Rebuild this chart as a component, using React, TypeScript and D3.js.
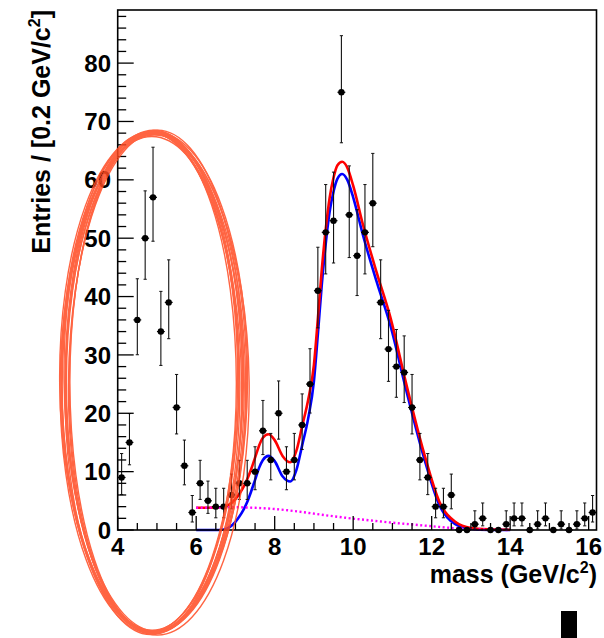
import React from 'react';
import * as d3 from 'd3';

// ---- data ----
const massBins = [
  4.1, 4.3, 4.5, 4.7, 4.9, 5.1, 5.3, 5.5, 5.7, 5.9,
  6.1, 6.3, 6.5, 6.7, 6.9, 7.1, 7.3, 7.5, 7.7, 7.9,
  8.1, 8.3, 8.5, 8.7, 8.9, 9.1, 9.3, 9.5, 9.7, 9.9,
  10.1, 10.3, 10.5, 10.7, 10.9, 11.1, 11.3, 11.5, 11.7, 11.9,
  12.1, 12.3, 12.5, 12.7, 12.9, 13.1, 13.3, 13.5, 13.7, 13.9,
  14.1, 14.3, 14.5, 14.7, 14.9, 15.1, 15.3, 15.5, 15.7, 15.9,
  16.1,
];
const counts = [
  9, 15, 36, 50, 57, 34, 39, 21, 11, 3,
  8, 5, 4, 4, 6, 8, 8, 10, 17, 12,
  20, 10, 12, 18, 25, 41, 51, 53, 75, 54,
  47, 51, 56, 39, 31, 28, 27, 21, 12, 9,
  4, 4, 6, 0, 0, 1, 2, 0, 0, 1,
  2, 2, 0, 1, 2, 0, 1, 0, 1, 2,
  3,
];
const errLow = [
  6.06, 11.17, 30.03, 42.96, 49.48, 28.2, 32.78, 16.46, 7.74, 1.37,
  5.24, 2.85, 2.09, 2.09, 3.63, 5.24, 5.24, 6.9, 12.92, 8.59,
  15.57, 6.9, 8.59, 13.8, 20.04, 34.63, 43.88, 45.75, 66.35, 46.68,
  40.17, 43.88, 48.54, 32.78, 25.47, 22.74, 21.84, 16.46, 8.59, 6.06,
  2.09, 2.09, 3.63, 0, 0, 0.17, 0.71, 0, 0, 0.17,
  0.71, 0.71, 0, 0.17, 0.71, 0, 0.17, 0, 0.17, 0.71,
  1.37,
];
const errHigh = [
  13.1, 19.95, 43.05, 58.11, 65.59, 40.89, 46.29, 26.65, 15.41, 5.91,
  11.94, 8.38, 7.15, 7.15, 9.58, 11.94, 11.94, 14.26, 22.2, 16.55,
  25.54, 14.26, 16.55, 23.32, 31.06, 48.45, 59.19, 61.32, 84.7, 62.39,
  54.9, 59.19, 64.53, 46.29, 37.63, 34.35, 33.26, 26.65, 16.55, 13.1,
  7.15, 7.15, 9.58, 0, 0, 3.29, 4.63, 0, 0, 3.29,
  4.63, 4.63, 0, 3.29, 4.63, 0, 3.29, 0, 3.29, 4.63,
  5.91,
];

const curveMass = [
  6.0, 6.5, 6.7, 6.85, 7.0, 7.1, 7.2, 7.3, 7.4, 7.5, 7.6, 7.7, 7.84, 8.0, 8.2, 8.4, 8.55, 8.7,
  8.85, 9.0, 9.1, 9.2, 9.3, 9.4, 9.5, 9.6, 9.72, 9.85, 10.0, 10.25, 10.6, 10.95, 11.35, 11.8,
  12.2, 12.6, 13.0, 13.5, 14.0,
];
const signalVals = [
  0, 0, 0.1, 0.5, 1.4, 2.3, 3.4, 4.8, 6.6, 8.6, 10.6, 12.0, 12.7, 11.8, 9.2, 8.3, 10.2, 14.5,
  19, 25.5, 33.5, 42, 49, 54.5, 58, 60.2, 61, 60, 57, 50.5, 42.5, 35, 24, 12.5,
  4.2, 1.0, 0.2, 0.02, 0,
];
const totalVals = [
  3.8, 3.85, 4.0, 4.4, 5.3, 6.2, 7.3, 8.7, 10.4, 12.4, 14.4, 15.8, 16.4, 15.4, 12.7, 11.6, 13.5, 17.8,
  22.2, 28.3, 36.2, 44.6, 51.5, 56.9, 60.4, 62.5, 63.1, 62.1, 59, 52.3, 44.1, 36.4, 25.1, 13.3,
  4.8, 1.4, 0.35, 0.12, 0.05,
];
const bgMass = [6.0, 6.5, 7.0, 7.5, 8.0, 8.5, 9.0, 9.5, 10.0, 10.5, 11.0, 11.5, 12.0, 12.5, 13.0, 13.5, 14.0];
const bgVals = [3.8, 3.85, 3.9, 3.8, 3.6, 3.25, 2.8, 2.35, 1.95, 1.6, 1.25, 0.95, 0.65, 0.35, 0.15, 0.05, 0.0];

const xMajorTicks = [4, 6, 8, 10, 12, 14, 16];
const yMajorTicks = [0, 10, 20, 30, 40, 50, 60, 70, 80];

// annotation ellipse (in data units): centre mass, centre value, half-width (mass), half-height (entries)
const annotCentre = [4.91, 25.3];
const annotHalf = [2.35, 42.8];

const FONT = '"Liberation Sans", Arial, Helvetica, sans-serif';

export default function App() {
  const W = 604, H = 638;
  const left = 117.7, right = 596.5, top = 10, bottom = 530;
  const x = d3.scaleLinear().domain([4, 16.2]).range([left, right]);
  const y = d3.scaleLinear().domain([0, 89.1]).range([bottom, top]);

  const xMinor = d3.range(4, 16.21, 0.5).filter((v) => !xMajorTicks.includes(v));
  const yMinor = d3.range(0, 89, 2).filter((v) => !yMajorTicks.includes(v));

  const line = d3
    .line<[number, number]>()
    .x((d) => x(d[0]))
    .y((d) => y(d[1]))
    .curve(d3.curveMonotoneX);

  const sigPath = line(curveMass.map((m, i) => [m, signalVals[i]]));
  const totPath = line(curveMass.map((m, i) => [m, totalVals[i]]));
  const bgPath = line(bgMass.map((m, i) => [m, bgVals[i]]));

  const cx = x(annotCentre[0]);
  const cy = y(annotCentre[1]);
  const rx = x(annotCentre[0] + annotHalf[0]) - cx;
  const ry = cy - y(annotCentre[1] + annotHalf[1]);
  // hand-drawn strands: [dcx, dcy, drx, dry, rotation]
  const strands = [
    [0, 0, 0, 0, -0.4],
    [-1, 0.8, -2, -1, 0.3],
    [0.8, -0.8, -4, 1.5, -0.2],
    [0.4, 0.4, 1.5, 0.8, 0.5],
    [-0.8, -0.4, -6, -1.5, 0.1],
    [1, 1, 2.5, 2, -0.7],
    [0, -1.2, -8, 0, 0.4],
    [-0.4, 1.5, -1, -2.5, -0.3],
    [0.8, 0, -3, 2.5, 0.8],
    [-0.8, 0.8, -5, 0.4, -0.5],
    [0.3, -0.3, -7, -0.8, 0.6],
    [-0.3, 0.2, -9, 1, -0.1],
    [0.6, 0.6, 0.5, -1.8, 0.2],
    [-0.6, -0.6, -3.5, -0.4, -0.9],
  ];

  return (
    <svg
      width={W}
      height={H}
      style={{ position: 'absolute', left: 0, top: 0, background: '#fff' }}
      fontFamily={FONT}
    >
      <rect x={0} y={0} width={W} height={H} fill="#fff" />

      {/* curves */}
      <path d={sigPath || ''} fill="none" stroke="#0000ff" strokeWidth={2.6} />
      <path d={totPath || ''} fill="none" stroke="#ff0000" strokeWidth={2.6} />
      <path d={bgPath || ''} fill="none" stroke="#ff00ff" strokeWidth={2.4} strokeDasharray="2 2.5" />

      {/* data points */}
      {massBins.map((m, i) => {
        const px = x(m);
        const py = y(counts[i]);
        const hasErr = errHigh[i] > 0;
        return (
          <g key={i}>
            <line x1={x(m - 0.1)} x2={x(m + 0.1)} y1={py} y2={py} stroke="#000" strokeWidth={1.2} />
            {hasErr && (
              <>
                <line x1={px} x2={px} y1={y(errLow[i])} y2={y(errHigh[i])} stroke="#111" strokeWidth={1.1} />
                <line x1={px - 1.6} x2={px + 1.6} y1={y(errHigh[i])} y2={y(errHigh[i])} stroke="#111" strokeWidth={1} />
                <line x1={px - 1.6} x2={px + 1.6} y1={y(errLow[i])} y2={y(errLow[i])} stroke="#111" strokeWidth={1} />
              </>
            )}
            <circle cx={px} cy={py} r={3.2} fill="#000" />
          </g>
        );
      })}

      {/* frame */}
      <rect x={left} y={top} width={right - left} height={bottom - top} fill="none" stroke="#000" strokeWidth={1.6} />

      {/* x ticks */}
      {xMajorTicks.map((t) => (
        <g key={'xm' + t}>
          <line x1={x(t)} x2={x(t)} y1={bottom} y2={bottom - 14} stroke="#000" strokeWidth={1.3} />
          <text x={x(t)} y={555} textAnchor="middle" fontSize={24} fontWeight="bold">
            {t}
          </text>
        </g>
      ))}
      {xMinor.map((t) => (
        <line key={'xn' + t} x1={x(t)} x2={x(t)} y1={bottom} y2={bottom - 7} stroke="#000" strokeWidth={1.3} />
      ))}

      {/* y ticks */}
      {yMajorTicks.map((t) => (
        <g key={'ym' + t}>
          <line x1={left} x2={left + 16} y1={y(t)} y2={y(t)} stroke="#000" strokeWidth={1.3} />
          <text x={111} y={y(t)} dy="0.36em" textAnchor="end" fontSize={24} fontWeight="bold">
            {t}
          </text>
        </g>
      ))}
      {yMinor.map((t) => (
        <line key={'yn' + t} x1={left} x2={left + 8.5} y1={y(t)} y2={y(t)} stroke="#000" strokeWidth={1.3} />
      ))}

      {/* axis titles */}
      <text x={597} y={583} textAnchor="end" fontSize={25} fontWeight="bold">
        mass (GeV/c<tspan dy={-10} fontSize={16}>2</tspan><tspan dy={10}>)</tspan>
      </text>
      <text transform={`translate(50,10) rotate(-90)`} textAnchor="end" fontSize={25} fontWeight="bold">
        Entries / [0.2 GeV/c<tspan dy={-10} fontSize={16}>2</tspan><tspan dy={10}>]</tspan>
      </text>

      {/* hand-drawn annotation ellipse */}
      <g fill="none" stroke="#ff4a22" strokeWidth={1.4} opacity={0.85}>
        {strands.map((s, i) => (
          <ellipse
            key={i}
            cx={cx + s[0]}
            cy={cy + s[1]}
            rx={rx + s[2]}
            ry={ry + s[3]}
            transform={`rotate(${s[4]} ${cx} ${cy})`}
          />
        ))}
      </g>

      {/* stray block at the bottom */}
      <rect x={561} y={611} width={16} height={27} fill="#000" />
    </svg>
  );
}
